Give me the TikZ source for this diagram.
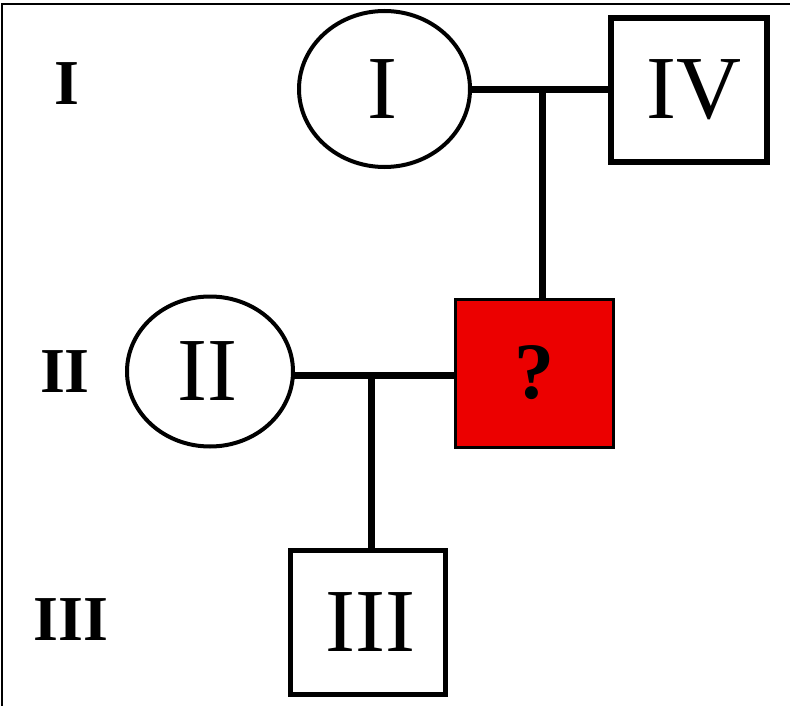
\documentclass[tikz,border=0pt]{standalone}
\usepackage{fontspec}
\setmainfont{Liberation Serif}
\usetikzlibrary{shapes.geometric}
\definecolor{affected}{RGB}{236,0,0}
\begin{document}
\begin{tikzpicture}[x=1pt,y=-1pt,
  female/.style={ellipse,draw=black,line width=4pt,inner sep=0pt,outer sep=0pt,
    font=\fontsize{90}{90}\selectfont},
  male/.style={rectangle,draw=black,line width=5.5pt,inner sep=0pt,outer sep=0pt,
    font=\fontsize{90}{90}\selectfont},
  sick/.style={rectangle,draw=black,fill=affected,line width=3pt,inner sep=0pt,outer sep=0pt,
    font=\bfseries\fontsize{80}{80}\selectfont},
  gen/.style={inner sep=0pt,font=\bfseries\fontsize{64}{64}\selectfont},
  conn/.style={draw=black,line width=7pt},
  frame/.style={draw=black,line width=2pt}]
\useasboundingbox (0,0) rectangle (790,706);
\fill[white] (0,0) rectangle (790,706);
\draw[frame] (2,706) -- (2,4) -- (790,4);
% generation labels
\node[gen] (g1) at (67,84) {I};
\node[gen] (g2) at (65,372) {II};
\node[gen] (g3) at (71,620) {III};
% individuals
\node[female,minimum width=171pt,minimum height=156pt] (p1) at (384.5,89) {\hspace*{-4pt}I};
\node[male,minimum width=156pt,minimum height=144pt] (p4) at (689,90) {\hspace*{10pt}IV};
\node[sick,minimum width=158pt,minimum height=148pt] (q) at (534,373) {?};
\node[female,minimum width=166pt,minimum height=150pt] (p2) at (210,371.5) {\hspace*{-6pt}II};
\node[male,minimum width=155pt,minimum height=144pt] (p3) at (368,622.5) {\hspace*{5pt}III};
% connectors
\coordinate (m1) at (542,90);
\coordinate (m2) at (371,375);
\draw[conn] (p1.east |- m1) -- (p4.west |- m1);
\draw[conn] (m1) -- (m1 |- q.north);
\draw[conn] (p2.east |- m2) -- (q.west |- m2);
\draw[conn] (m2) -- (m2 |- p3.north);
\end{tikzpicture}
\end{document}
